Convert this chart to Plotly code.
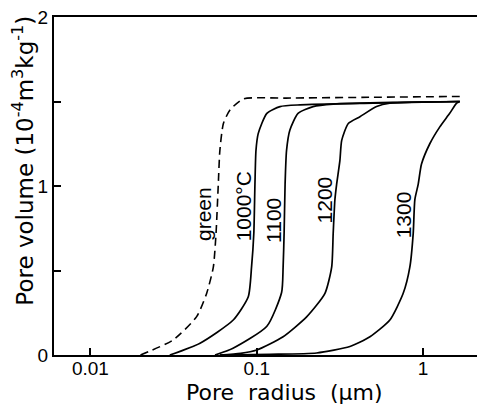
import math
import plotly.graph_objects as go

# Pore radius (um) and pore volume (1e-4 m3/kg)
green_r = [0.020, 0.0314, 0.0435, 0.050, 0.0548, 0.0569, 0.0587, 0.060, 0.063, 0.069, 0.083, 0.15, 0.5, 1.66]
green_v = [0.0, 0.089, 0.227, 0.366, 0.52, 0.72, 1.01, 1.21, 1.37, 1.45, 1.515, 1.52, 1.525, 1.53]

t1000_r = [0.030, 0.0456, 0.0722, 0.0889, 0.093, 0.096, 0.0975, 0.0989, 0.102, 0.115, 0.138, 0.182, 0.5, 1.66]
t1000_v = [0.0, 0.07, 0.207, 0.345, 0.52, 0.72, 1.01, 1.21, 1.31, 1.43, 1.47, 1.48, 1.49, 1.50]

t1100_r = [0.0561, 0.072, 0.115, 0.141, 0.144, 0.146, 0.148, 0.151, 0.158, 0.177, 0.218, 0.288, 0.7, 1.66]
t1100_v = [0.0, 0.04, 0.17, 0.37, 0.52, 0.72, 1.01, 1.21, 1.33, 1.43, 1.47, 1.485, 1.495, 1.50]

t1200_r = [0.060, 0.08, 0.1, 0.144, 0.2, 0.257, 0.282, 0.288, 0.295, 0.302, 0.316, 0.324, 0.355, 0.417, 0.525, 0.63, 1.66]
t1200_v = [0.0, 0.01, 0.03, 0.108, 0.227, 0.365, 0.52, 0.72, 0.92, 1.01, 1.15, 1.27, 1.37, 1.41, 1.47, 1.49, 1.50]

t1300_r = [0.060, 0.12, 0.229, 0.363, 0.479, 0.631, 0.759, 0.832, 0.872, 0.892, 0.934, 0.978, 1.097, 1.26, 1.445, 1.59, 1.66]
t1300_v = [0.0, 0.004, 0.012, 0.05, 0.108, 0.207, 0.365, 0.52, 0.72, 0.92, 1.01, 1.13, 1.25, 1.35, 1.43, 1.49, 1.50]

labels = ["green", "1000°C", "1100", "1200", "1300"]
label_r = [0.0475, 0.0837, 0.1268, 0.257, 0.760]
label_v = [0.834, 0.879, 0.799, 0.920, 0.828]

x_tickvals = [0.01, 0.1, 1]
x_ticktext = ["0.01", "0.1", "1"]
y_tickvals = [0, 1, 2]
y_ticktext = ["0", "1", "2"]
y_minor_step = 0.5

x_title = "Pore&nbsp;&nbsp;radius&nbsp;&nbsp;(μm)"
y_title = "Pore volume (10<sup>-4</sup>m<sup>3</sup>kg<sup>-1</sup>)"

fig = go.Figure()
line_style = dict(color="black", width=1.7, shape="spline", smoothing=0.6)
fig.add_trace(go.Scatter(x=green_r, y=green_v, mode="lines",
                         line=dict(color="black", width=1.6, dash="8px,5px", shape="spline", smoothing=0.6)))
for r, v in [(t1000_r, t1000_v), (t1100_r, t1100_v), (t1200_r, t1200_v), (t1300_r, t1300_v)]:
    fig.add_trace(go.Scatter(x=r, y=v, mode="lines", line=line_style))

for txt, r, v in zip(labels, label_r, label_v):
    fig.add_annotation(x=math.log10(r), y=v, xref="x", yref="y", text=txt, showarrow=False,
                       xanchor="center", yanchor="middle",
                       textangle=-90, font=dict(size=21, color="black", family="Liberation Sans"))

# axis titles
fig.add_annotation(x=0.538, y=-0.112, xref="paper", yref="paper", text=x_title, showarrow=False,
                   xanchor="center", yanchor="middle",
                   font=dict(size=22, color="black", family="DejaVu Sans"))
fig.add_annotation(x=-0.0723, y=0.575, xref="paper", yref="paper", text=y_title, showarrow=False,
                   xanchor="center", yanchor="middle",
                   textangle=-90, font=dict(size=23, color="black", family="DejaVu Sans"))

axis_common = dict(showgrid=False, zeroline=False, showline=True, linecolor="black", linewidth=2,
                   mirror=True, ticks="inside", ticklen=7, tickwidth=1.5, tickcolor="black",
                   automargin=False, ticklabeloverflow="allow",
                   tickfont=dict(size=19, color="black", family="Liberation Sans"))

fig.update_xaxes(type="log", range=[-2.219, 0.36], tickvals=x_tickvals, ticktext=x_ticktext,
                 ticklabelstandoff=-5, **axis_common)
fig.update_yaxes(range=[0, 2], tickvals=y_tickvals, ticktext=y_ticktext,
                 minor=dict(dtick=y_minor_step, tick0=0, ticks="inside", ticklen=7,
                            tickwidth=1.5, tickcolor="black", showgrid=False),
                 ticklabelstandoff=0, **axis_common)

fig.update_layout(width=477, height=397, margin=dict(l=46, r=2, t=9, b=50),
                  plot_bgcolor="white", paper_bgcolor="white", showlegend=False)

fig.write_html("out.html")
